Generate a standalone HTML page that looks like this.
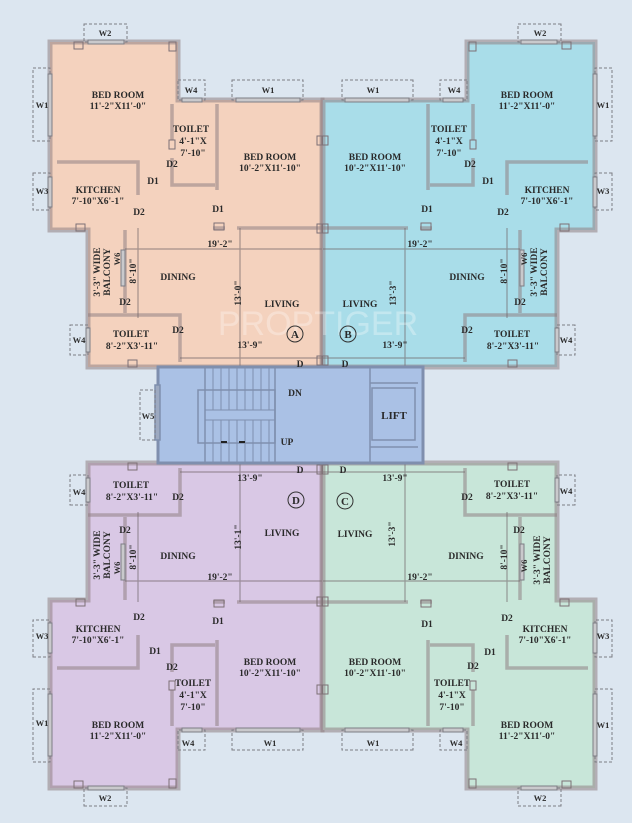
<!DOCTYPE html>
<html><head><meta charset="utf-8"><style>
html,body{margin:0;padding:0;background:#dce6f0;}
svg{display:block}
text{font-family:"Liberation Serif",serif;font-weight:bold;font-size:9.5px;fill:#2a2a2a;text-anchor:middle}
.w{font-size:8.5px}
</style></head><body>
<svg width="632" height="823" viewBox="0 0 632 823" xmlns="http://www.w3.org/2000/svg">
<defs>
<g id="u">
  <polygon points="50,42 178,42 178,100 322,100 322,367 88,367 88,230 50,230" stroke="#8f7f84" stroke-opacity="0.55" stroke-width="5"/>
  <g fill="none" stroke="#8f7f84" stroke-opacity="0.55" stroke-width="3.5">
    <path d="M57,162 H138 V195"/>
    <path d="M125,230 V313"/>
    <path d="M88,315 H180 V362"/>
    <path d="M172,104 V140 M172,158 V185 H215 M217,104 V190"/>
    <path d="M213,228 H225 M237,228 H322"/>
  </g>
  <g fill="none" stroke="#6f6468" stroke-opacity="0.6" stroke-width="1.2">
    <path d="M125,249 H322 M240,228 V367 M138,228 V318 M180,358 H322"/>
  </g>
  <g fill="none" stroke="#7d7d85" stroke-width="1" stroke-dasharray="3,2">
    <rect x="84" y="24" width="43" height="18"/>
    <rect x="33" y="68" width="17" height="73"/>
    <rect x="33" y="173" width="17" height="37"/>
    <rect x="178" y="80" width="27" height="20"/>
    <rect x="232" y="80" width="71" height="20"/>
    <rect x="70" y="325" width="18" height="30"/>
  </g>
  <g fill="#c9c9cc" stroke="#7d7d85" stroke-width="1">
    <rect x="88" y="40" width="36" height="4"/>
    <rect x="48" y="74" width="4" height="62"/>
    <rect x="48" y="177" width="4" height="30"/>
    <rect x="236" y="98" width="64" height="4"/>
    <rect x="182" y="98" width="20" height="4"/>
    <rect x="86" y="328" width="4" height="24"/>
    <rect x="121" y="250" width="4" height="36"/>
  </g>
  <g fill="none" stroke="#7d7075" stroke-width="1">
    <rect x="74" y="42" width="9" height="7"/><rect x="169" y="42" width="7" height="9"/>
    <rect x="76" y="224" width="9" height="7"/><rect x="214" y="223" width="10" height="7"/>
    <rect x="317" y="136" width="6" height="9"/><rect x="317" y="224" width="6" height="9"/>
    <rect x="317" y="356" width="6" height="9"/><rect x="128" y="360" width="9" height="7"/>
    <rect x="169" y="140" width="6" height="9"/>
  </g>
</g>
</defs>
<rect width="632" height="823" fill="#dce6f0"/>
<use href="#u" fill="#f4d2be"/>
<use href="#u" fill="#a9dde9" transform="translate(645,0) scale(-1,1)"/>
<use href="#u" fill="#d9c8e5" transform="translate(0,830) scale(1,-1)"/>
<use href="#u" fill="#c8e6d9" transform="translate(645,830) scale(-1,-1)"/>

<!-- core -->
<g stroke="#7f8fae" stroke-width="1.5">
  <rect x="158" y="367" width="265" height="96" fill="#aac1e5" stroke-width="3"/>
  <rect x="198" y="390" width="77" height="53" fill="none"/>
  <rect x="205" y="367" width="70" height="96" fill="none"/>
  <path d="M213,367V410M221,367V410M229,367V410M237,367V410M245,367V410M253,367V410M261,367V410M269,367V410 M213,420V463M221,420V463M229,420V463M237,420V463M245,420V463M253,420V463M261,420V463M269,420V463 M205,410H275M205,420H275" fill="none" stroke-width="1"/>
  <path d="M370,367V463 M370,383H418 M370,447H418" fill="none"/>
  <rect x="372" y="388" width="43" height="52" fill="none"/>
  <rect x="155" y="385" width="5" height="55" fill="#9da9c0"/>
</g>
<rect x="140" y="390" width="15" height="50" fill="none" stroke="#7d7d85" stroke-dasharray="3,2"/>
<path d="M221,442h6M239,442h6" stroke="#222" stroke-width="2"/>
<text x="295" y="396">DN</text><text x="287" y="445">UP</text>
<text x="394" y="419" style="font-size:11px">LIFT</text>
<text class="w" x="148" y="419">W5</text>

<text x="318" y="335" style="font-size:34px;font-weight:normal;fill:#ffffff;fill-opacity:0.3;font-family:'Liberation Sans',sans-serif">PROPTIGER</text>

<!-- A -->
<text x="118" y="98">BED ROOM</text><text x="118" y="109">11'-2"X11'-0"</text>
<text x="191" y="132">TOILET</text><text x="193" y="144">4'-1"X</text><text x="193" y="156">7'-10"</text>
<text x="270" y="160">BED ROOM</text><text x="270" y="171">10'-2"X11'-10"</text>
<text x="98" y="193">KITCHEN</text><text x="98" y="204">7'-10"X6'-1"</text>
<text x="153" y="184">D1</text><text x="139" y="215">D2</text><text x="172" y="167">D2</text><text x="218" y="212">D1</text>
<text x="220" y="247">19'-2"</text><text x="178" y="280">DINING</text><text x="282" y="307">LIVING</text>
<text x="131" y="337">TOILET</text><text x="132" y="349">8'-2"X3'-11"</text><text x="178" y="333">D2</text>
<text x="125" y="305">D2</text>
<text x="250" y="348">13'-9"</text><text x="300" y="367">D</text>
<text class="w" x="105" y="36">W2</text><text class="w" x="42" y="108">W1</text><text class="w" x="42" y="194">W3</text>
<text class="w" x="191" y="93">W4</text><text class="w" x="268" y="93">W1</text><text class="w" x="79" y="343">W4</text>
<text transform="translate(136,271) rotate(-90)">8'-10"</text>
<text transform="translate(100,272) rotate(-90)">3'-3" WIDE</text>
<text transform="translate(110,272) rotate(-90)">BALCONY</text>
<text class="w" transform="translate(120,259) rotate(-90)">W6</text>
<text transform="translate(241,293) rotate(-90)">13'-0"</text>
<circle cx="295" cy="334" r="8" fill="none" stroke="#333"/><text x="295" y="338" style="font-size:11px">A</text>

<!-- B -->
<text x="527" y="98">BED ROOM</text><text x="527" y="109">11'-2"X11'-0"</text>
<text x="449" y="132">TOILET</text><text x="449" y="144">4'-1"X</text><text x="449" y="156">7'-10"</text>
<text x="375" y="160">BED ROOM</text><text x="375" y="171">10'-2"X11'-10"</text>
<text x="547" y="193">KITCHEN</text><text x="547" y="204">7'-10"X6'-1"</text>
<text x="488" y="184">D1</text><text x="503" y="215">D2</text><text x="470" y="167">D2</text><text x="427" y="212">D1</text>
<text x="420" y="247">19'-2"</text><text x="467" y="280">DINING</text><text x="360" y="307">LIVING</text>
<text x="512" y="337">TOILET</text><text x="513" y="349">8'-2"X3'-11"</text><text x="467" y="333">D2</text>
<text x="520" y="305">D2</text>
<text x="395" y="348">13'-9"</text><text x="345" y="367">D</text>
<text class="w" x="540" y="36">W2</text><text class="w" x="603" y="108">W1</text><text class="w" x="603" y="194">W3</text>
<text class="w" x="454" y="93">W4</text><text class="w" x="373" y="93">W1</text><text class="w" x="566" y="343">W4</text>
<text transform="translate(507,271) rotate(-90)">8'-10"</text>
<text transform="translate(537,272) rotate(-90)">3'-3" WIDE</text>
<text transform="translate(547,272) rotate(-90)">BALCONY</text>
<text class="w" transform="translate(527,259) rotate(-90)">W6</text>
<text transform="translate(396,293) rotate(-90)">13'-3"</text>
<circle cx="348" cy="334" r="8" fill="none" stroke="#333"/><text x="348" y="338" style="font-size:11px">B</text>

<!-- D -->
<text x="118" y="728">BED ROOM</text><text x="118" y="739">11'-2"X11'-0"</text>
<text x="193" y="686">TOILET</text><text x="193" y="698">4'-1"X</text><text x="193" y="710">7'-10"</text>
<text x="270" y="665">BED ROOM</text><text x="270" y="676">10'-2"X11'-10"</text>
<text x="98" y="632">KITCHEN</text><text x="98" y="643">7'-10"X6'-1"</text>
<text x="155" y="654">D1</text><text x="139" y="620">D2</text><text x="172" y="670">D2</text><text x="218" y="624">D1</text>
<text x="220" y="580">19'-2"</text><text x="178" y="559">DINING</text><text x="282" y="536">LIVING</text>
<text x="131" y="488">TOILET</text><text x="132" y="500">8'-2"X3'-11"</text><text x="178" y="500">D2</text>
<text x="125" y="533">D2</text>
<text x="250" y="481">13'-9"</text><text x="300" y="473">D</text>
<text class="w" x="105" y="801">W2</text><text class="w" x="42" y="726">W1</text><text class="w" x="42" y="639">W3</text>
<text class="w" x="188" y="746">W4</text><text class="w" x="270" y="746">W1</text><text class="w" x="79" y="495">W4</text>
<text transform="translate(136,557) rotate(-90)">8'-10"</text>
<text transform="translate(100,555) rotate(-90)">3'-3" WIDE</text>
<text transform="translate(110,555) rotate(-90)">BALCONY</text>
<text class="w" transform="translate(120,568) rotate(-90)">W6</text>
<text transform="translate(241,537) rotate(-90)">13'-1"</text>
<circle cx="296" cy="500" r="8" fill="none" stroke="#333"/><text x="296" y="504" style="font-size:11px">D</text>

<!-- C -->
<text x="527" y="728">BED ROOM</text><text x="527" y="739">11'-2"X11'-0"</text>
<text x="452" y="686">TOILET</text><text x="452" y="698">4'-1"X</text><text x="452" y="710">7'-10"</text>
<text x="375" y="665">BED ROOM</text><text x="375" y="676">10'-2"X11'-10"</text>
<text x="545" y="632">KITCHEN</text><text x="545" y="643">7'-10"X6'-1"</text>
<text x="490" y="655">D1</text><text x="507" y="621">D2</text><text x="473" y="669">D2</text><text x="427" y="627">D1</text>
<text x="420" y="580">19'-2"</text><text x="466" y="559">DINING</text><text x="355" y="537">LIVING</text>
<text x="512" y="487">TOILET</text><text x="512" y="499">8'-2"X3'-11"</text><text x="467" y="500">D2</text>
<text x="519" y="533">D2</text>
<text x="395" y="481">13'-9"</text><text x="343" y="473">D</text>
<text class="w" x="540" y="801">W2</text><text class="w" x="603" y="728">W1</text><text class="w" x="603" y="639">W3</text>
<text class="w" x="456" y="746">W4</text><text class="w" x="373" y="746">W1</text><text class="w" x="566" y="494">W4</text>
<text transform="translate(507,557) rotate(-90)">8'-10"</text>
<text transform="translate(540,560) rotate(-90)">3'-3" WIDE</text>
<text transform="translate(550,560) rotate(-90)">BALCONY</text>
<text class="w" transform="translate(527,566) rotate(-90)">W6</text>
<text transform="translate(395,534) rotate(-90)">13'-3"</text>
<circle cx="345" cy="501" r="8" fill="none" stroke="#333"/><text x="345" y="505" style="font-size:11px">C</text>
</svg>
</body></html>
